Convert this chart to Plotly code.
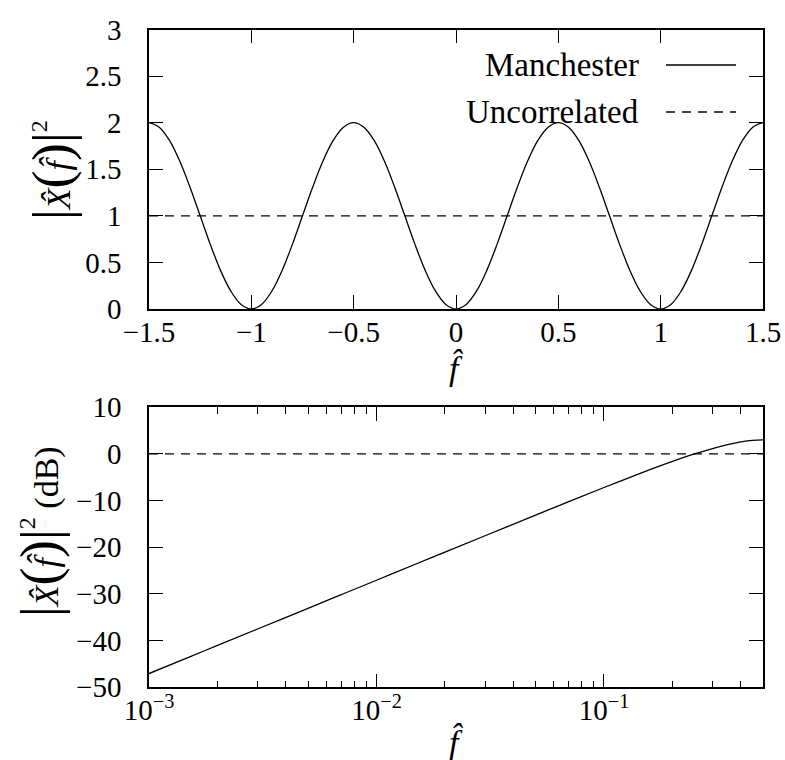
import plotly.graph_objects as go

# ---- data ----
f_lin = [-1.5, -1.45, -1.4, -1.35, -1.3, -1.25, -1.2, -1.15, -1.1, -1.05, -1.0,
         -0.95, -0.9, -0.85, -0.8, -0.75, -0.7, -0.65, -0.6, -0.55, -0.5,
         -0.45, -0.4, -0.35, -0.3, -0.25, -0.2, -0.15, -0.1, -0.05, 0.0,
         0.05, 0.1, 0.15, 0.2, 0.25, 0.3, 0.35, 0.4, 0.45, 0.5,
         0.55, 0.6, 0.65, 0.7, 0.75, 0.8, 0.85, 0.9, 0.95, 1.0,
         1.05, 1.1, 1.15, 1.2, 1.25, 1.3, 1.35, 1.4, 1.45, 1.5]
manchester = [2.0, 1.951, 1.809, 1.588, 1.309, 1.0, 0.691, 0.412, 0.191, 0.049, 0.0,
              0.049, 0.191, 0.412, 0.691, 1.0, 1.309, 1.588, 1.809, 1.951, 2.0,
              1.951, 1.809, 1.588, 1.309, 1.0, 0.691, 0.412, 0.191, 0.049, 0.0,
              0.049, 0.191, 0.412, 0.691, 1.0, 1.309, 1.588, 1.809, 1.951, 2.0,
              1.951, 1.809, 1.588, 1.309, 1.0, 0.691, 0.412, 0.191, 0.049, 0.0,
              0.049, 0.191, 0.412, 0.691, 1.0, 1.309, 1.588, 1.809, 1.951, 2.0]
uncorr_x = [-1.5, 1.5]
uncorr_y = [1.0, 1.0]

f_log = [0.001, 0.0015, 0.002, 0.003, 0.005, 0.007, 0.01, 0.015, 0.02, 0.03,
         0.05, 0.07, 0.1, 0.15, 0.2, 0.25, 0.3, 0.35, 0.4, 0.45, 0.5]
manchester_db = [-47.05, -43.53, -41.03, -37.51, -33.07, -30.15, -27.06, -23.53, -21.03, -17.52,
                 -13.10, -10.21, -7.19, -3.85, -1.61, 0.0, 1.17, 2.01, 2.57, 2.90, 3.01]
uncorr_db_x = [0.001, 0.5]
uncorr_db_y = [0.0, 0.0]

top_xticks = [-1.5, -1, -0.5, 0, 0.5, 1, 1.5]
top_yticks = [0, 0.5, 1, 1.5, 2, 2.5, 3]
bot_xticks = [0.001, 0.01, 0.1]
bot_xticktext = ["10<sup>−3</sup>", "10<sup>−2</sup>", "10<sup>−1</sup>"]
bot_yticks = [-50, -40, -30, -20, -10, 0, 10]
legend_names = ["Manchester", "Uncorrelated"]

FONT = "Liberation Serif"
W, H = 785, 760
DASH = "9px,7px"

def px_x(p):
    return p / W

def px_y(p):
    return 1 - p / H

xdom = [px_x(149), px_x(763)]
ydom_top = [px_y(309), px_y(29.5)]
ydom_bot = [px_y(687.3), px_y(407.3)]

fig = go.Figure()
fig.add_trace(go.Scatter(x=f_lin, y=manchester, mode="lines", line=dict(color="black", width=1.3, shape="spline"),
                         xaxis="x", yaxis="y", showlegend=False))
fig.add_trace(go.Scatter(x=uncorr_x, y=uncorr_y, mode="lines", line=dict(color="black", width=1.3, dash=DASH),
                         xaxis="x", yaxis="y", showlegend=False))
fig.add_trace(go.Scatter(x=f_log, y=manchester_db, mode="lines", line=dict(color="black", width=1.3, shape="spline"),
                         xaxis="x2", yaxis="y2", showlegend=False))
fig.add_trace(go.Scatter(x=uncorr_db_x, y=uncorr_db_y, mode="lines", line=dict(color="black", width=1.3, dash=DASH),
                         xaxis="x2", yaxis="y2", showlegend=False))

axis_common = dict(showline=True, linecolor="black", linewidth=1.5, mirror="ticks", ticks="inside",
                   ticklen=14, tickwidth=1, tickcolor="black", showgrid=False, zeroline=False, automargin=False,
                   tickfont=dict(family=FONT, size=29, color="black"))

minor_log = [m * d for d in (0.001, 0.01, 0.1) for m in range(2, 10) if m * d <= 0.5]

fig.update_layout(
    width=W, height=H, margin=dict(l=0, r=0, t=0, b=0),
    paper_bgcolor="white", plot_bgcolor="white",
    xaxis=dict(domain=xdom, anchor="y", range=[-1.5, 1.5], tickvals=top_xticks, ticklabelstandoff=-4, **axis_common),
    yaxis=dict(domain=ydom_top, anchor="x", range=[0, 3], tickvals=top_yticks, ticklabelstandoff=20, **axis_common),
    xaxis2=dict(domain=xdom, anchor="y2", type="log", range=[-3, -0.30103], tickvals=bot_xticks,
                ticktext=bot_xticktext, ticklabelstandoff=-4,
                minor=dict(ticks="inside", ticklen=7, tickwidth=1, tickcolor="black", tickvals=minor_log, showgrid=False),
                **axis_common),
    yaxis2=dict(domain=ydom_bot, anchor="x2", range=[-50, 10], tickvals=bot_yticks, ticklabelstandoff=20, **axis_common),
)

ann_font = dict(family=FONT, size=34, color="black")
fhat = "<i>f\u0302</i>"
BIG = '<span style="font-size:54px">{}</span>'
SUP2 = '<span style="font-size:54px"><sup><span style="font-size:24px">2</span></sup></span>'
ylab = (BIG.format("|") + "<i>X\u0302</i>" + BIG.format("(") + fhat + BIG.format(")")
        + BIG.format("|") + SUP2)

annotations = [
    dict(text=fhat, x=0.5, y=px_y(368), xref="x domain", yref="paper", xanchor="center", yanchor="middle",
         showarrow=False, font=ann_font),
    dict(text=fhat, x=0.5, y=px_y(742), xref="x2 domain", yref="paper", xanchor="center", yanchor="middle",
         showarrow=False, font=ann_font),
    dict(text=ylab, x=px_x(52), y=px_y(170), xref="paper", yref="paper", xanchor="center", yanchor="middle",
         showarrow=False, textangle=-90, font=ann_font),
    dict(text=ylab + " (dB)", x=px_x(40), y=px_y(532), xref="paper", yref="paper", xanchor="center",
         yanchor="middle", showarrow=False, textangle=-90, font=ann_font),
]
# legend (text on the left, line sample on the right)
leg_y = [px_y(65), px_y(112)]
for name, yy in zip(legend_names, leg_y):
    annotations.append(dict(text=name, x=px_x(641), y=yy, xref="paper", yref="paper", xanchor="right",
                            yanchor="middle", showarrow=False, font=dict(family=FONT, size=33, color="black")))
fig.update_layout(annotations=annotations)
fig.add_shape(type="line", xref="paper", yref="paper", x0=px_x(666), x1=px_x(736), y0=leg_y[0], y1=leg_y[0],
              line=dict(color="black", width=1.3))
fig.add_shape(type="line", xref="paper", yref="paper", x0=px_x(666), x1=px_x(736), y0=leg_y[1], y1=leg_y[1],
              line=dict(color="black", width=1.3, dash=DASH))

fig.write_html("out.html")
